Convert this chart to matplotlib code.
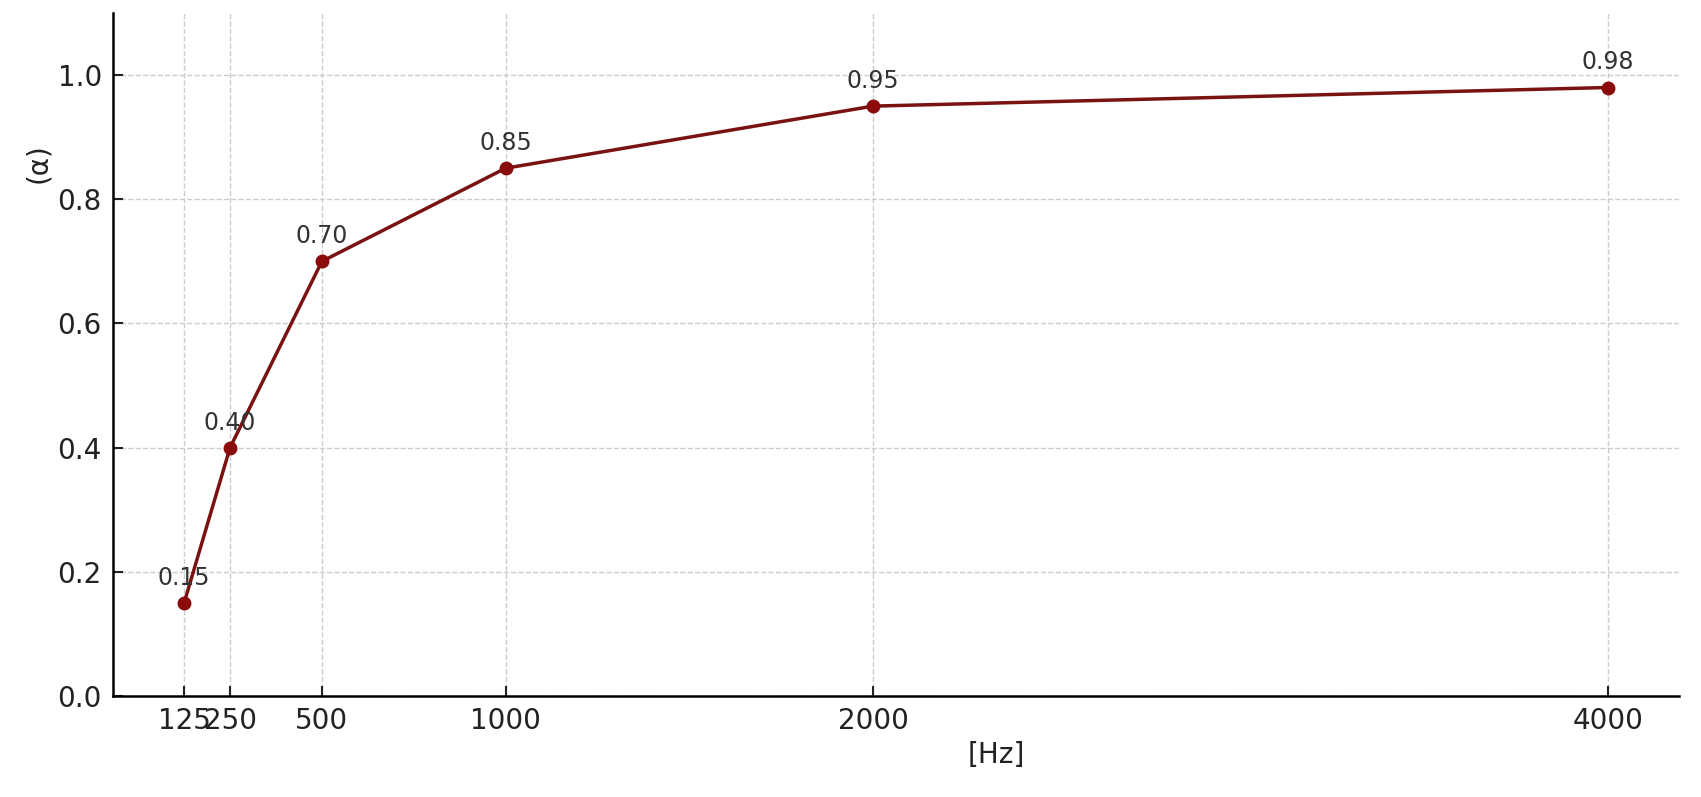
import matplotlib
matplotlib.use("Agg")
import matplotlib.pyplot as plt

freqs = [125, 250, 500, 1000, 2000, 4000]
alpha = [0.15, 0.40, 0.70, 0.85, 0.95, 0.98]
labels = ["0.15", "0.40", "0.70", "0.85", "0.95", "0.98"]

fig = plt.figure(figsize=(17.01, 7.97), dpi=100)
ax = fig.add_axes([0.0664, 0.1267, 0.9206, 0.857])

ax.plot(freqs, alpha, color='#7a1212', linewidth=2.5, marker='o',
        markersize=9, markerfacecolor='#8b0a0a', markeredgecolor='#8b0a0a')

for f, a, t in zip(freqs, alpha, labels):
    ax.annotate(t, (f, a), textcoords='offset points', xytext=(0, 13),
                ha='center', fontsize=17, color='#333333')

ax.set_xticks(freqs)
ax.set_xticklabels([str(f) for f in freqs])
ax.set_ylim(0, 1.1)
ax.set_yticks([0.0, 0.2, 0.4, 0.6, 0.8, 1.0])

ax.tick_params(direction='in', length=7, width=1.5, labelsize=20,
               colors='#222222', pad=8)
ax.set_xlabel('[Hz]', fontsize=20, color='#222222', labelpad=4, x=0.564)
ax.set_ylabel('(α)', fontsize=20, color='#222222', labelpad=4, y=0.78)

ax.grid(True, linestyle='--', color='#cccccc', linewidth=1)
ax.set_axisbelow(True)
ax.spines['top'].set_visible(False)
ax.spines['right'].set_visible(False)
ax.spines['left'].set_linewidth(1.8)
ax.spines['bottom'].set_linewidth(1.8)

fig.savefig('out.png', dpi=100)
